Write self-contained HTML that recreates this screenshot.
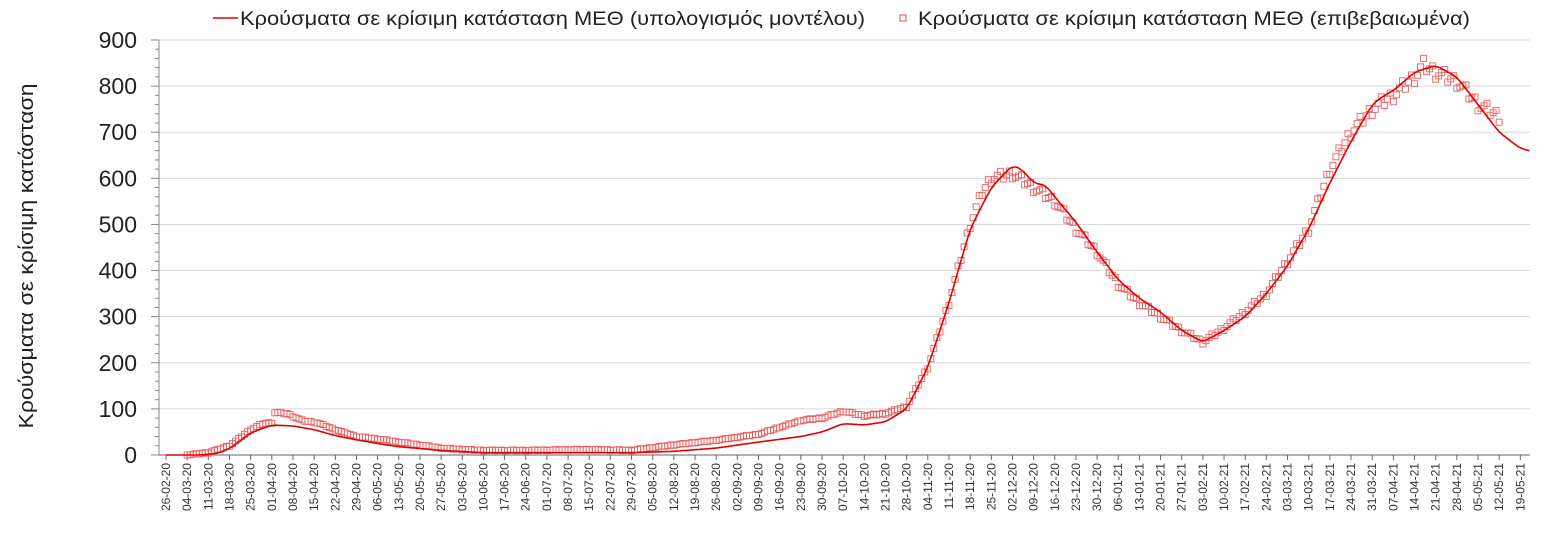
<!DOCTYPE html><html><head><meta charset="utf-8"><style>body{margin:0;background:#fff}svg{display:block;font-family:"Liberation Sans","DejaVu Sans",sans-serif}</style></head><body>
<svg id="s" width="1556" height="544" xmlns="http://www.w3.org/2000/svg">
<text x="33" y="256" font-size="20" fill="#222" text-anchor="middle" textLength="345" lengthAdjust="spacingAndGlyphs" transform="rotate(-90 33 256)">Κρούσματα σε κρίσιμη κατάσταση</text>
<line x1="213" y1="18" x2="238" y2="18" stroke="#e00000" stroke-width="1.5"/>
<text x="240" y="25" font-size="19" fill="#222" textLength="625" lengthAdjust="spacingAndGlyphs">Κρούσματα σε κρίσιμη κατάσταση ΜΕΘ (υπολογισμός μοντέλου)</text>
<rect x="900" y="15" width="6" height="6" fill="none" stroke="#e05050" stroke-width="1"/>
<text x="918" y="25" font-size="19" fill="#222" textLength="552" lengthAdjust="spacingAndGlyphs">Κρούσματα σε κρίσιμη κατάσταση ΜΕΘ (επιβεβαιωμένα)</text>
<g id="g"></g>
</svg>
<script>
var NS="http://www.w3.org/2000/svg",g=document.getElementById("g");
function el(t,a,txt){var e=document.createElementNS(NS,t);for(var k in a)e.setAttribute(k,a[k]);if(txt)e.textContent=txt;g.appendChild(e);return e;}
var X0=166,DX=3.023,Y0=455,SY=0.4611;
function X(d){return X0+DX*d}function Y(v){return Y0-SY*v}
for(var v=100;v<=900;v+=100)el("line",{x1:159,x2:1530,y1:Y(v),y2:Y(v),stroke:"#d8d8d8","stroke-width":1});
for(var v=0;v<=900;v+=100)el("text",{x:137,y:Y(v)+8,"font-size":23,fill:"#222","text-anchor":"end"},String(v));
el("line",{x1:159,x2:159,y1:40,y2:455,stroke:"#888"});
for(var v=0;v<=900;v+=20)el("line",{x1:v%100?155:151,x2:159,y1:Y(v),y2:Y(v),stroke:"#888"});
el("line",{x1:159,x2:1530,y1:455,y2:455,stroke:"#666"});
var start=new Date(2020,1,26);
function p(n){return(n<10?"0":"")+n}
for(var w=0;w<=64;w++){var x=X(w*7);el("line",{x1:x,x2:x,y1:455,y2:460,stroke:"#666"});
var dt=new Date(start.getTime()+w*7*864e5);
var s=p(dt.getDate())+"-"+p(dt.getMonth()+1)+"-"+String(dt.getFullYear()).slice(2);
el("text",{x:x+4,y:463,"font-size":12,fill:"#333","text-anchor":"end",transform:"rotate(-90 "+(x+4)+" 463)"},s);}
function lin(k,d){for(var i=0;i<k.length-1;i++){if(d<=k[i+1][0]){var a=k[i],b=k[i+1],t=(d-a[0])/(b[0]-a[0]);return a[1]+(b[1]-a[1])*t;}}return k[k.length-1][1];}
function smooth(k,d){var s=0,n=0;for(var j=-1.5;j<=1.5;j+=0.5){s+=lin(k,d+j);n++;}return s/n;}
var obs=[[7,0],[14,5],[21,20],[28,55],[32,68],[35,70],[36,92],[40,90],[45,75],[50,70],[56,55],[63,40],[70,35],[77,28],[84,22],[91,15],[98,12],[105,10],[119,10],[140,12],[154,10],[168,22],[182,32],[196,45],[203,60],[210,75],[217,80],[224,95],[231,85],[238,90],[245,105],[252,190],[259,330],[266,500],[270,570],[273,600],[280,610],[287,580],[294,550],[301,490],[308,440],[315,370],[322,330],[329,300],[336,270],[343,245],[350,275],[357,310],[364,350],[371,420],[378,490],[385,620],[392,700],[399,750],[406,780],[413,820],[416,845],[420,830],[427,810],[434,760],[441,735]];
for(var d=7;d<=441;d++){var b=lin(obs,d);var v=b+((d*37)%7-3)*0.006*Math.max(b,50);if(v<0)v=0;
el("rect",{x:X(d)-3,y:Y(v)-3,width:6,height:6,fill:"none",stroke:"#e86060","stroke-width":0.9});}
var mod=[[0,0],[12,0],[18,5],[22,18],[28,48],[35,65],[42,63],[49,55],[56,42],[63,33],[70,25],[77,18],[91,10],[105,5],[154,5],[168,8],[182,15],[196,28],[210,40],[217,50],[224,68],[231,65],[238,72],[245,100],[252,190],[259,330],[266,490],[273,580],[280,628],[283,620],[287,590],[291,585],[294,560],[301,505],[308,440],[315,380],[322,340],[329,310],[336,270],[343,245],[350,270],[357,300],[364,350],[371,410],[378,490],[385,590],[392,680],[399,760],[403,780],[406,790],[413,830],[420,845],[427,820],[434,760],[441,700],[448,665],[451,660],[460,640]];
var dd="";for(var d=0;d<=451;d+=0.5)dd+=(d?"L":"M")+X(d).toFixed(1)+","+Y(d<3?0:smooth(mod,d)).toFixed(1);
el("path",{d:dd,fill:"none",stroke:"#e00000","stroke-width":1.6});
</script></body></html>
